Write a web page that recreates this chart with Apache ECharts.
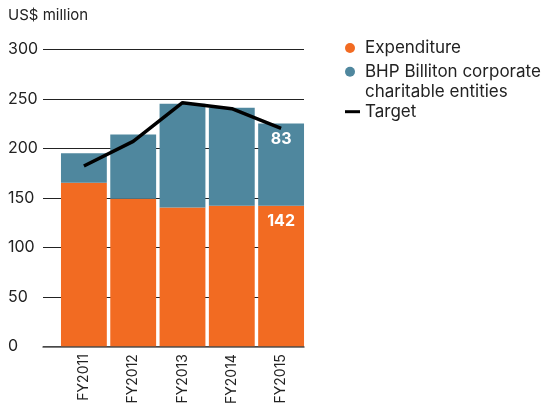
<!DOCTYPE html>
<html>
<head>
<meta charset="utf-8">
<script src="https://cdn.jsdelivr.net/npm/echarts@6/dist/echarts.min.js"></script>
<style>html,body{margin:0;padding:0;background:#fff}#c{width:554px;height:407px}</style>
</head>
<body>
<div id="c"></div>
<script>
const categories = ['FY2011', 'FY2012', 'FY2013', 'FY2014', 'FY2015'];
const expenditure = [165, 149, 140, 142, 142];
const charitable = [30, 65, 105, 99, 83];
const target = [182, 207, 246, 240, 220];
const labelledIndex = 4;

const FONT = 'Inter, "Noto Sans", sans-serif';
const TXT = '#222';

function withLabel(values) {
  return values.map((v, i) => i === labelledIndex ? {
    value: v,
    label: { show: true, position: 'insideTop', distance: 8, color: '#fff', fontWeight: 'bold', fontSize: 16, fontFamily: FONT }
  } : v);
}

const legendText = { fontSize: 17, color: TXT, fontFamily: FONT, lineHeight: 20 };

const chart = echarts.init(document.getElementById('c'), null, { renderer: 'canvas' });
chart.setOption({
  animation: false,
  textStyle: { fontFamily: FONT },
  title: {
    text: 'US$ million', left: 8, top: 8, padding: 0,
    textStyle: { fontSize: 15, fontWeight: 'normal', color: TXT, fontFamily: FONT }
  },
  legend: [
    {
      data: ['Expenditure'], orient: 'vertical', left: 345, top: 38, padding: 0, selectedMode: false,
      itemWidth: 20, itemHeight: 10, icon: 'circle',
      textStyle: legendText
    },
    {
      data: ['BHP Billiton corporate charitable entities'], orient: 'vertical', left: 345, top: 41.7, padding: 0, selectedMode: false,
      itemWidth: 20, itemHeight: 10, icon: 'circle',
      formatter: () => '\nBHP Billiton corporate\ncharitable entities',
      textStyle: legendText
    },
    {
      data: ['Target'], orient: 'vertical', left: 345, top: 101.7, padding: 0, selectedMode: false,
      itemWidth: 15, itemHeight: 3, icon: 'rect',
      textStyle: legendText
    }
  ],
  grid: [
    { left: 43, right: 250, top: 49.3, bottom: 60.5 },
    { left: 59.25, right: 248.25, top: 49.3, bottom: 60.5 }
  ],
  xAxis: [
    {
      type: 'value', gridIndex: 0, min: 0, max: 1,
      axisLine: { show: true, lineStyle: { color: '#555', width: 1.5 } },
      axisTick: { show: false }, axisLabel: { show: false }, splitLine: { show: false }
    },
    {
      type: 'category', gridIndex: 1, data: categories,
      axisLine: { show: false }, axisTick: { show: false },
      axisLabel: { rotate: 90, margin: 8, fontSize: 14, color: TXT, fontFamily: FONT },
      splitLine: { show: false }
    }
  ],
  yAxis: [
    {
      type: 'value', gridIndex: 0, min: 0, max: 300, interval: 50,
      axisLine: { show: false }, axisTick: { show: false },
      axisLabel: { align: 'left', margin: 35, fontSize: 16, color: TXT, fontFamily: FONT },
      splitLine: { show: true, lineStyle: { color: '#222', width: 1 } }
    },
    {
      type: 'value', gridIndex: 1, min: 0, max: 300, interval: 50, show: false,
      splitLine: { show: false }
    }
  ],
  series: [
    {
      name: 'Expenditure', type: 'bar', stack: 'total', xAxisIndex: 1, yAxisIndex: 1,
      barCategoryGap: '7%', itemStyle: { color: '#F26B22' },
      data: withLabel(expenditure)
    },
    {
      name: 'BHP Billiton corporate charitable entities', type: 'bar', stack: 'total', xAxisIndex: 1, yAxisIndex: 1,
      barCategoryGap: '7%', itemStyle: { color: '#4F879E' },
      data: withLabel(charitable)
    },
    {
      name: 'Target', type: 'line', xAxisIndex: 1, yAxisIndex: 1, symbol: 'none', showSymbol: false, z: 5,
      lineStyle: { color: '#000', width: 3.5 }, itemStyle: { color: '#000' },
      data: target
    }
  ]
});
</script>
</body>
</html>
